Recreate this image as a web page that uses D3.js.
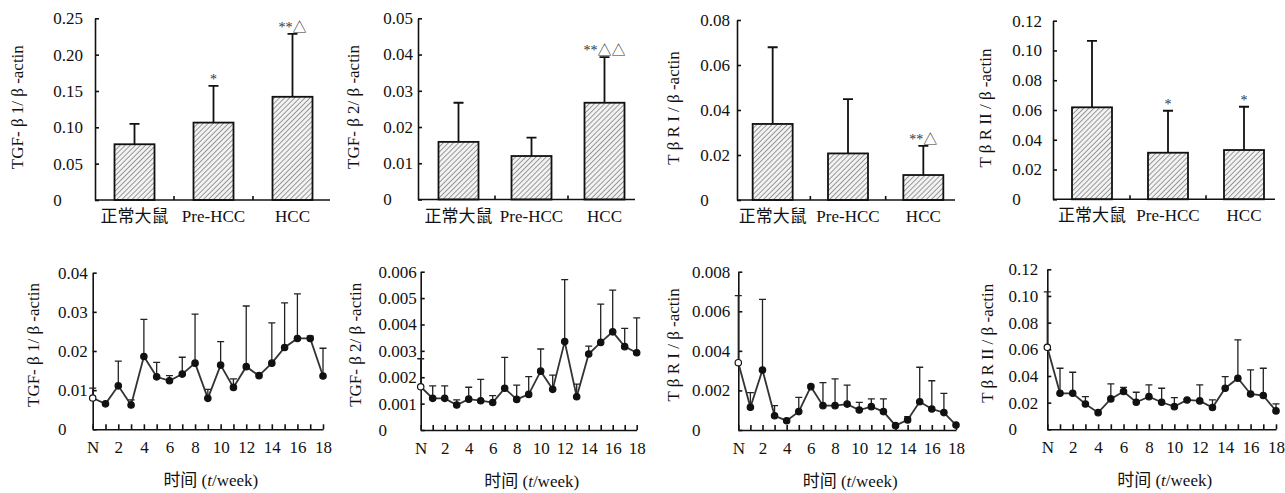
<!DOCTYPE html>
<meta charset="utf-8">
<style>
    body { margin: 0; background: #fff; }
    svg text { font-family: "Liberation Serif", "Noto Sans CJK SC", serif; font-size: 17px; fill: #111; }
    .axis path, .axis line { stroke: #111; stroke-width: 1.6; }
    .mark { font-size: 14px; fill: #333; }
</style>
<svg width="1285" height="493"></svg>
<script src="https://d3js.org/d3.v7.min.js"></script>
<script>
    // categories
    var groups = ["正常大鼠", "Pre-HCC", "HCC"];
    var weeks = [0, 1, 2, 3, 4, 5, 6, 7, 8, 9, 10, 11, 12, 13, 14, 15, 16, 17, 18];
    var weekLabels = ["N", "", "2", "", "4", "", "6", "", "8", "", "10", "", "12", "", "14", "", "16", "", "18"];

    // top row: group means, SD, significance marks
    var tgfb1Mean = [0.0767, 0.1065, 0.142];
    var tgfb1Sd = [0.028, 0.0505, 0.0867];
    var tgfb1Marks = ["", "*", "**△"];
    var tgfb2Mean = [0.0159, 0.012, 0.0267];
    var tgfb2Sd = [0.0108, 0.0051, 0.0126];
    var tgfb2Marks = ["", "", "**△△"];
    var tbr1Mean = [0.0338, 0.0207, 0.0111];
    var tbr1Sd = [0.0341, 0.0241, 0.013];
    var tbr1Marks = ["", "", "**△"];
    var tbr2Mean = [0.0618, 0.0313, 0.0331];
    var tbr2Sd = [0.0446, 0.0282, 0.0291];
    var tbr2Marks = ["", "*", "*"];

    // bottom row: weekly means and SD
    var tgfb1Week = [0.0080, 0.0065, 0.0111, 0.0062, 0.0186, 0.0134, 0.0124, 0.0141, 0.0169, 0.0079, 0.0164, 0.0107, 0.0160, 0.0137, 0.0169, 0.0209, 0.0232, 0.0232, 0.0136];
    var tgfb1WeekSd = [0.0025, 0, 0.0063, 0.0013, 0.0095, 0.0037, 0.0013, 0.0043, 0.0125, 0.0023, 0.0060, 0.0022, 0.0155, 0.0004, 0.0103, 0.0114, 0.0114, 0.0006, 0.0071];
    var tgfb2Week = [0.00164, 0.0012, 0.0012, 0.00095, 0.00117, 0.00111, 0.00104, 0.00158, 0.00116, 0.00135, 0.00223, 0.00154, 0.00335, 0.00126, 0.00288, 0.00332, 0.00372, 0.00316, 0.00293];
    var tgfb2WeekSd = [0.00106, 0.00047, 0.00047, 0.00019, 0.00045, 0.00081, 0.00026, 0.00117, 0.00054, 0.00067, 0.00084, 0.00054, 0.00235, 0.00048, 0.0003, 0.00145, 0.00158, 0.00069, 0.00132];
    var tbr1Week = [0.0034, 0.00115, 0.00303, 0.00072, 0.00047, 0.00093, 0.00219, 0.00123, 0.00123, 0.00131, 0.00101, 0.00118, 0.00093, 0.00022, 0.00051, 0.00143, 0.00106, 0.00088, 0.00025];
    var tbr1WeekSd = [0.00339, 0.00074, 0.00357, 0.00051, 0, 0.00072, 0.00008, 0.00116, 0.00135, 0.00096, 0.00039, 0.00039, 0.00064, 0, 0.00016, 0.00174, 0.00143, 0.00097, 0];
    var tbr2Week = [0.0615, 0.027, 0.027, 0.019, 0.0125, 0.0228, 0.0283, 0.0203, 0.0245, 0.0203, 0.017, 0.022, 0.0213, 0.0163, 0.0308, 0.0383, 0.0265, 0.0253, 0.0138];
    var tbr2WeekSd = [0.0415, 0.0188, 0.0158, 0.0055, 0, 0.0112, 0.0032, 0.0075, 0.0088, 0.0105, 0.0068, 0.0005, 0.012, 0.0057, 0.0087, 0.0287, 0.018, 0.0205, 0.0052];

    // tick labels
    var ticksB1 = ["0", "0.05", "0.10", "0.15", "0.20", "0.25"];
    var ticksB2 = ["0", "0.01", "0.02", "0.03", "0.04", "0.05"];
    var ticksB3 = ["0", "0.02", "0.04", "0.06", "0.08"];
    var ticksB4 = ["0", "0.02", "0.04", "0.06", "0.08", "0.10", "0.12"];
    var ticksL1 = ["0", "0.01", "0.02", "0.03", "0.04"];
    var ticksL2 = ["0", "0.001", "0.002", "0.003", "0.004", "0.005", "0.006"];
    var ticksL3 = ["0", "0.002", "0.004", "0.006", "0.008"];
    var ticksL4 = ["0", "0.02", "0.04", "0.06", "0.08", "0.10", "0.12"];

    var labB1 = "TGF- β 1/ β -actin", labB2 = "TGF- β 2/ β -actin";
    var labR1 = "T β R I / β -actin", labR2 = "T β R II / β -actin";

    var svg = d3.select('svg');

    // diagonal hatch for bars
    var pat = svg.append('defs').append('pattern')
        .attr('id', 'hatch')
        .attr('patternUnits', 'userSpaceOnUse')
        .attr('width', 3.6).attr('height', 3.6)
        .attr('patternTransform', 'rotate(45)');
    pat.append('rect').attr('width', 3.6).attr('height', 3.6).attr('fill', '#f2f2f2');
    pat.append('line').attr('x1', 0).attr('y1', 0).attr('x2', 0).attr('y2', 3.6)
        .attr('stroke', '#6a6a6a').attr('stroke-width', 1.3);

    function yAxis(g, y, ticks, gap) {
        g.attr('class', 'axis')
            .call(d3.axisLeft(y).tickValues(ticks.map(Number)).tickFormat((d, i) => ticks[i]).tickSize(-4).tickSizeOuter(0));
        var w = d3.max(g.selectAll('text').nodes(), n => n.getComputedTextLength());
        g.selectAll('text').attr('text-anchor', 'start').attr('x', -gap - w);
    }

    function yLabel(text, x, y) {
        svg.append('text')
            .attr('transform', 'translate(' + x + ',' + y + ') rotate(-90)')
            .attr('text-anchor', 'middle')
            .attr('dy', '0.35em')
            .text(text);
    }

    function barPanel(p, mean, sd, marks, ticks, label) {
        var x = d3.scaleBand().domain(groups).range(p.band);
        var y = d3.scaleLinear().domain([0, +ticks[ticks.length - 1]]).range([p.y0, p.y1]);
        var g = svg.append('g');
        var bw = 40;

        // error bars (upper only)
        g.selectAll('.err').data(groups).enter().append('path')
            .attr('d', (d, i) => {
                var cx = x(d) + x.bandwidth() / 2, t = y(mean[i] + sd[i]);
                return 'M' + cx + ',' + y(mean[i]) + 'V' + t + 'M' + (cx - 5) + ',' + t + 'H' + (cx + 5);
            })
            .attr('stroke', '#111').attr('stroke-width', 1.8).attr('fill', 'none');

        g.selectAll('.bar').data(groups).enter().append('rect')
            .attr('x', d => x(d) + (x.bandwidth() - bw) / 2)
            .attr('y', (d, i) => y(mean[i]))
            .attr('width', bw)
            .attr('height', (d, i) => p.y0 - y(mean[i]))
            .attr('fill', 'url(#hatch)')
            .attr('stroke', '#111').attr('stroke-width', 1.8);

        g.selectAll('.mark').data(groups).enter().append('text')
            .attr('class', 'mark')
            .attr('x', d => x(d) + x.bandwidth() / 2)
            .attr('y', (d, i) => y(mean[i] + sd[i]) - 2)
            .attr('text-anchor', 'middle')
            .text((d, i) => marks[i]);

        yAxis(g.append('g').attr('transform', 'translate(' + p.ax + ',0)'), y, ticks, p.gap);

        var xa = g.append('g').attr('class', 'axis').attr('transform', 'translate(0,' + p.y0 + ')');
        xa.call(d3.axisBottom(x).tickSize(0).tickPadding(10));
        xa.select('.domain').remove();
        xa.append('path').attr('d', 'M' + p.ax + ',0H' + p.axisEnd);
        xa.selectAll('.sep').data(groups.slice(1)).enter().append('path')
            .attr('d', d => 'M' + x(d) + ',0V-4');

        yLabel(label, p.labX, (p.y0 + p.y1) / 2 - 2);
    }

    function linePanel(p, mean, sd, ticks, label) {
        var x = d3.scaleLinear().domain([0, 18]).range([p.ax, p.xEnd]);
        var y = d3.scaleLinear().domain([0, +ticks[ticks.length - 1]]).range([p.y0, p.y1]);
        var g = svg.append('g');

        yAxis(g.append('g').attr('transform', 'translate(' + p.ax + ',0)'), y, ticks, p.gap);

        var xa = g.append('g').attr('class', 'axis').attr('transform', 'translate(0,' + p.y0 + ')');
        xa.call(d3.axisBottom(x).tickValues(weeks).tickFormat((d, i) => weekLabels[i]).tickSize(-5).tickSizeOuter(0).tickPadding(12));

        g.selectAll('.err').data(weeks.filter((d, i) => sd[i] > 0)).enter().append('path')
            .attr('d', d => {
                var cx = x(d), t = y(mean[d] + sd[d]);
                return 'M' + cx + ',' + y(mean[d]) + 'V' + t + 'M' + (cx - 3.5) + ',' + t + 'H' + (cx + 3.5);
            })
            .attr('stroke', '#222').attr('stroke-width', 1.3).attr('fill', 'none');

        g.append('path')
            .datum(weeks)
            .attr('d', d3.line().x(d => x(d)).y(d => y(mean[d])))
            .attr('stroke', '#333').attr('stroke-width', 1.8).attr('fill', 'none');

        g.selectAll('.pt').data(weeks).enter().append('circle')
            .attr('cx', d => x(d))
            .attr('cy', d => y(mean[d]))
            .attr('r', 3.2)
            .attr('fill', d => d === 0 ? '#fff' : '#111')
            .attr('stroke', '#111').attr('stroke-width', 1.2);

        yLabel(label, p.labX, (p.y0 + p.y1) / 2 - 6);

        var t = svg.append('text')
            .attr('x', (p.ax + p.xEnd) / 2 + 3)
            .attr('y', p.y0 + 57)
            .attr('text-anchor', 'middle');
        t.append('tspan').text('时间 (');
        t.append('tspan').attr('font-style', 'italic').text('t');
        t.append('tspan').text('/week)');
    }

    barPanel({ ax: 95, band: [95, 332], axisEnd: 330, y0: 200, y1: 18.3, gap: 12, labX: 17 }, tgfb1Mean, tgfb1Sd, tgfb1Marks, ticksB1, labB1);
    barPanel({ ax: 418, band: [422, 641], axisEnd: 635, y0: 199.5, y1: 18.3, gap: 5, labX: 353 }, tgfb2Mean, tgfb2Sd, tgfb2Marks, ticksB2, labB2);
    barPanel({ ax: 737, band: [735, 961], axisEnd: 955, y0: 200, y1: 20, gap: 7, labX: 673 }, tbr1Mean, tbr1Sd, tbr1Marks, ticksB3, labR1);
    barPanel({ ax: 1053, band: [1054, 1282], axisEnd: 1275, y0: 199.3, y1: 20.7, gap: 11, labX: 985 }, tbr2Mean, tbr2Sd, tbr2Marks, ticksB4, labR2);

    linePanel({ ax: 92.7, xEnd: 323, y0: 429.3, y1: 272.7, gap: 5, labX: 33 }, tgfb1Week, tgfb1WeekSd, ticksL1, labB1);
    linePanel({ ax: 420.7, xEnd: 636.7, y0: 430, y1: 271.7, gap: 4, labX: 355 }, tgfb2Week, tgfb2WeekSd, ticksL2, labB2);
    linePanel({ ax: 738.3, xEnd: 956, y0: 430, y1: 271.7, gap: 8, labX: 673 }, tbr1Week, tbr1WeekSd, ticksL3, labR1);
    linePanel({ ax: 1047.3, xEnd: 1276, y0: 429.3, y1: 269.3, gap: 9, labX: 987 }, tbr2Week, tbr2WeekSd, ticksL4, labR2);
</script>
